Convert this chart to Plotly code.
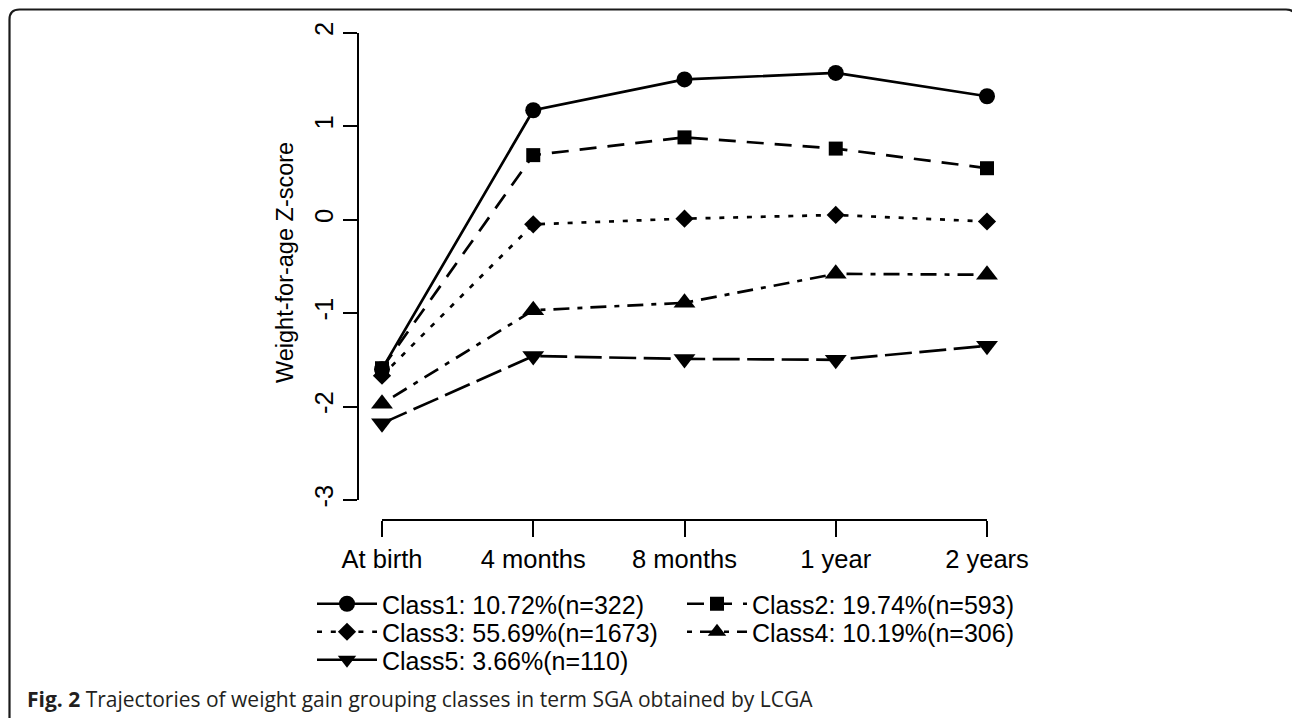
import plotly.graph_objects as go

W, H = 1292, 718

# ---- data ----
time_labels = ["At birth", "4 months", "8 months", "1 year", "2 years"]
time_index = [1, 2, 3, 4, 5]
y_ticks = [-3, -2, -1, 0, 1, 2]
y_tick_labels = ["-3", "-2", "-1", "0", "1", "2"]

class_names = [
    "Class1: 10.72%(n=322)",
    "Class2: 19.74%(n=593)",
    "Class3: 55.69%(n=1673)",
    "Class4: 10.19%(n=306)",
    "Class5: 3.66%(n=110)",
]
class1 = [-1.60, 1.17, 1.50, 1.57, 1.32]
class2 = [-1.59, 0.69, 0.88, 0.76, 0.55]
class3 = [-1.67, -0.05, 0.01, 0.05, -0.02]
class4 = [-1.97, -0.97, -0.89, -0.58, -0.59]
class5 = [-2.18, -1.46, -1.49, -1.50, -1.35]
series = [class1, class2, class3, class4, class5]

caption_bold = "Fig. 2"
caption_text = "Trajectories of weight gain grouping classes in term SGA obtained by LCGA"
y_title = "Weight-for-age Z-score"

# ---- styles ----
symbols = ["circle", "square", "diamond", "triangle-up", "triangle-down"]
sizes = [16, 14, 14, 19, 19]
dashes = ["solid", "17px,11px", "5px,8.8px", "5px,8px,16px,8px", "27px,7.5px"]
legend_ids = ["legend", "legend2", "legend3", "legend4", "legend5"]
# legend slot positions (left px, top px): two columns, three rows
legend_left = [312, 682, 312, 682, 312]
legend_top = [581, 581, 609, 609, 637]

FONT = "Liberation Sans, Arial, sans-serif"


def fx(p):
    return p / W


def fy(p):
    return 1 - p / H


fig = go.Figure()
for name, vals, sym, sz, dsh, lg in zip(class_names, series, symbols, sizes, dashes, legend_ids):
    fig.add_trace(go.Scatter(
        x=time_index, y=vals, mode="lines+markers", name=name,
        line=dict(color="black", width=2.7, dash=dsh),
        marker=dict(symbol=sym, size=sz, color="black", line=dict(width=0)),
        cliponaxis=False, legend=lg, hoverinfo="skip",
    ))

axis_common = dict(
    showline=True, linecolor="black", linewidth=1.8,
    ticks="outside", tickwidth=1.8, tickcolor="black",
    showgrid=False, zeroline=False, automargin=False,
    tickfont=dict(family=FONT, size=25.5, color="black"),
)

legend_layouts = {}
for lg, lx, ly in zip(legend_ids, legend_left, legend_top):
    legend_layouts[lg] = dict(
        x=fx(lx), y=fy(ly), xanchor="left", yanchor="top", orientation="v",
        bgcolor="rgba(0,0,0,0)", borderwidth=0, tracegroupgap=0,
        font=dict(family=FONT, size=25, color="black"), itemwidth=60,
    )

fig.update_layout(
    template="none",
    width=W, height=H,
    margin=dict(l=0, r=0, t=0, b=0),
    paper_bgcolor="white", plot_bgcolor="rgba(0,0,0,0)",
    font=dict(family=FONT, size=25, color="black"),
    showlegend=True,
    xaxis=dict(
        domain=[fx(382), fx(987)], range=[1, 5], anchor="free", position=fy(520),
        tickvals=time_index, ticktext=time_labels, ticklen=16, **axis_common,
    ),
    yaxis=dict(
        domain=[fy(500), fy(32.7)], range=[-3, 2], anchor="free", position=fx(358),
        tickvals=y_ticks, ticktext=y_tick_labels, tickangle=-90, ticklen=14, **axis_common,
    ),
    **legend_layouts,
)

fig.add_annotation(
    x=fx(285), y=fy(263), xref="paper", yref="paper", text=y_title,
    textangle=-90, showarrow=False, xanchor="center", yanchor="middle",
    font=dict(family=FONT, size=23.5, color="black"),
)

fig.add_annotation(
    x=fx(25), y=fy(699), xref="paper", yref="paper",
    text="<b>" + caption_bold + "</b> " + caption_text,
    showarrow=False, xanchor="left", yanchor="middle",
    font=dict(family="Open Sans, sans-serif", size=21, color="#231f20"),
)

# rounded frame (open at bottom; right side just beyond the canvas)
L, T, R, B, rad = 9.5, 9.5, 1296, 760, 10
path = (
    f"M {fx(R)},{fy(B)} V {fy(T + rad)} Q {fx(R)},{fy(T)} {fx(R - rad)},{fy(T)} "
    f"H {fx(L + rad)} Q {fx(L)},{fy(T)} {fx(L)},{fy(T + rad)} V {fy(B)}"
)
fig.add_shape(type="path", path=path, xref="paper", yref="paper",
              line=dict(color="#1a1a1a", width=2.2))

fig.write_html(
    "out.html",
    config={"displayModeBar": False},
    post_script="document.body.style.margin='0px';document.body.style.padding='0px';"
                "document.documentElement.style.overflow='hidden';",
)
